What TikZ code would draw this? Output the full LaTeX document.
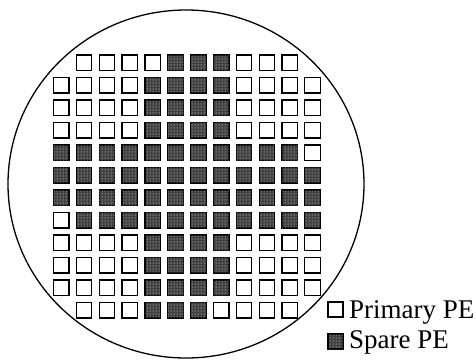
\documentclass[tikz,border=0pt]{standalone}
\usepackage{fontspec}
\setmainfont{Liberation Serif}
\usetikzlibrary{patterns}
\tikzset{
  prim/.style={draw=black, line width=1.2pt, fill=white},
  spare/.style={draw=black, line width=1.2pt, fill=black!75, postaction={pattern=dots, pattern color=white}},
  legtext/.style={anchor=base west, inner sep=0pt, font=\fontsize{27}{30}\selectfont}
}
\begin{document}
\begin{tikzpicture}[x=1pt,y=-1pt]
\useasboundingbox (0,0) rectangle (476,359);
\fill[white] (0,0) rectangle (476,359);
% wafer
\draw[line width=1.3pt] (186,184) ellipse [x radius=178, y radius=174];
% grid
\foreach \row [count=\j from 0] in {
 {0,1,1,1,1,2,2,2,1,1,1,0},
 {1,1,1,1,2,2,2,2,1,1,1,1},
 {1,1,1,1,2,2,2,2,1,1,1,1},
 {1,1,1,1,2,2,2,2,1,1,1,1},
 {2,2,2,2,2,2,2,2,2,2,2,1},
 {2,2,2,2,2,2,2,2,2,2,2,2},
 {2,2,2,2,2,2,2,2,2,2,2,2},
 {1,2,2,2,2,2,2,2,2,2,2,2},
 {1,1,1,1,2,2,2,2,1,1,1,1},
 {1,1,1,1,2,2,2,2,1,1,1,1},
 {1,1,1,1,2,2,2,2,1,1,1,1},
 {0,1,1,1,2,2,2,1,1,1,1,0}} {
  \foreach \c [count=\i from 0] in \row {
    \pgfmathsetmacro{\xx}{53.5+22.85*\i}
    \pgfmathsetmacro{\yy}{55+22.5*\j}
    \ifnum\c=1 \path[prim] (\xx,\yy) rectangle ++(15.5,15.5); \fi
    \ifnum\c=2 \path[spare] (\xx,\yy) rectangle ++(15.5,15.5); \fi
  }
}
% legend
\path[prim] (328,302) rectangle ++(15,15);
\node[legtext] (ptext) at (349,318) {Primary PE};
\path[spare] (328,334) rectangle ++(15,15);
\node[legtext] (stext) at (349,348) {Spare PE};
\end{tikzpicture}
\end{document}
